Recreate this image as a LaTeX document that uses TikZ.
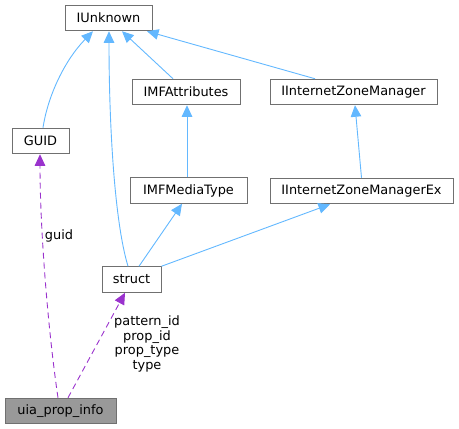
\documentclass[tikz,border=0pt]{standalone}
\usepackage{fontspec}
\setmainfont{DejaVu Sans}
\usetikzlibrary{arrows.meta}
\definecolor{edgeblue}{HTML}{63B8FF}
\definecolor{edgepurple}{HTML}{9A32CD}
\definecolor{nodeborder}{HTML}{707070}
\definecolor{nodefill}{HTML}{999999}
\begin{document}
\begin{tikzpicture}[x=1pt,y=-1pt,
  box/.style={draw=nodeborder,line width=1pt,fill=white,minimum height=25.5pt,inner sep=0pt,font=\fontsize{12.9}{14.5}\selectfont},
  hibox/.style={box,fill=nodefill},
  inherit/.style={draw=edgeblue,line width=0.9pt,-{Triangle[length=11.5pt,width=10.5pt]}},
  usage/.style={draw=edgepurple,line width=0.9pt,dash pattern=on 6pt off 4pt,-{Triangle[length=11.5pt,width=10.5pt]}},
  lbl/.style={font=\fontsize{12.9}{14.5}\selectfont,align=center,inner sep=0pt}]
\useasboundingbox (0,0) rectangle (459,429);
\node[box,minimum width=87pt] (iunk) at (108.5,18) {IUnknown};
\node[box,minimum width=108pt] (imfa) at (186,92) {IMFAttributes};
\node[box,minimum width=167pt] (izm) at (353.5,92) {IInternetZoneManager};
\node[box,minimum width=57pt] (guid) at (40.5,141) {GUID};
\node[box,minimum width=117pt] (imfm) at (188.5,190.5) {IMFMediaType};
\node[box,minimum width=183pt] (izmex) at (361.5,191) {IInternetZoneManagerEx};
\node[box,minimum width=59pt] (struct) at (131.5,279.5) {struct};
\node[hibox,minimum width=111pt] (uia) at (60.5,411) {uia\_prop\_info};

\draw[inherit] ([xshift=2.5pt]guid.north) .. controls (48,95) and (65,60) .. ([xshift=-15.5pt]iunk.south);
\draw[inherit] ([xshift=-3.5pt]struct.north) .. controls (114,220) and (109,120) .. ([xshift=0.5pt]iunk.south);
\draw[inherit] ([xshift=-13pt]imfa.north) -- ([xshift=13.5pt]iunk.south);
\draw[inherit] ([xshift=-38.5pt]izm.north) -- ([xshift=38.5pt]iunk.south);
\draw[inherit] ([xshift=-1.5pt]imfm.north) -- ([xshift=1pt]imfa.south);
\draw[inherit] (izmex.north) -- ([xshift=1.5pt]izm.south);
\draw[inherit] ([xshift=7.5pt]struct.north) -- ([xshift=-6.5pt]imfm.south);
\draw[inherit] (struct.north east) -- ([xshift=-31.5pt]izmex.south);
\draw[usage] ([xshift=-2.5pt]uia.north) .. controls (48,330) and (40,230) .. ([xshift=-0.5pt]guid.south);
\draw[usage] ([xshift=7.5pt]uia.north) -- ([xshift=-6.5pt]struct.south);
\node[lbl] (lguid) at (59,236) {guid};
\node[lbl] (lstruct) at (147,344) {pattern\_id\\prop\_id\\prop\_type\\type};
\end{tikzpicture}
\end{document}
